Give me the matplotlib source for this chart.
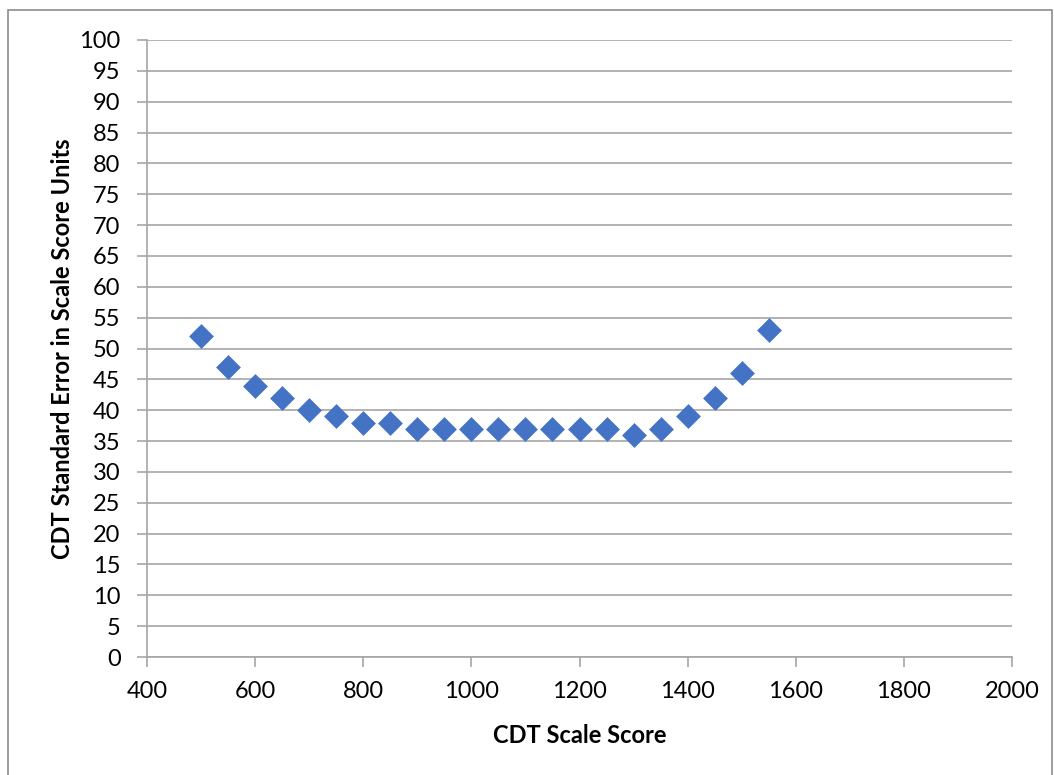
import matplotlib
matplotlib.use("Agg")
import matplotlib.pyplot as plt
from matplotlib.patches import Rectangle

scale_score = [500, 550, 600, 650, 700, 750, 800, 850, 900, 950, 1000,
               1050, 1100, 1150, 1200, 1250, 1300, 1350, 1400, 1450, 1500, 1550]
std_error = [52, 47, 44, 42, 40, 39, 38, 38, 37, 37, 37,
             37, 37, 37, 37, 37, 36, 37, 39, 42, 46, 53]

plt.rcParams['font.family'] = ['Lato', 'DejaVu Sans']

fig = plt.figure(figsize=(10.54, 7.75), dpi=100)
ax = fig.add_axes([147 / 1054, 1 - 657 / 775, (1012 - 147) / 1054, (657 - 40) / 775])

ax.scatter(scale_score, std_error, marker='D', s=160, color='#4472C4', zorder=3, linewidths=0)

ax.set_xlim(400, 2000)
ax.set_ylim(0, 100)
ax.set_xticks(range(400, 2001, 200))
ax.set_yticks(range(0, 101, 5))
ax.yaxis.grid(True, color='#a6a6a6', linewidth=1.2)
ax.set_axisbelow(True)

for side in ['top', 'right']:
    ax.spines[side].set_visible(False)
for side in ['left', 'bottom']:
    ax.spines[side].set_color('#a6a6a6')
    ax.spines[side].set_linewidth(1.2)

ax.tick_params(axis='both', colors='#a6a6a6', length=7, width=1.2, labelsize=17, labelcolor='black')
ax.tick_params(axis='x', pad=10)
ax.tick_params(axis='y', pad=12)

ax.set_xlabel('CDT Scale Score', fontsize=17, fontweight='bold', labelpad=16)
ax.set_ylabel('CDT Standard Error in Scale Score Units', fontsize=17, fontweight='bold', labelpad=4)

fig.patches.append(Rectangle((8 / 1054, -0.1), 1044 / 1054, 1.1 - 10 / 775,
                             transform=fig.transFigure, fill=False,
                             edgecolor='#8c8c8c', linewidth=1.2))

fig.savefig('out.png', dpi=100)
